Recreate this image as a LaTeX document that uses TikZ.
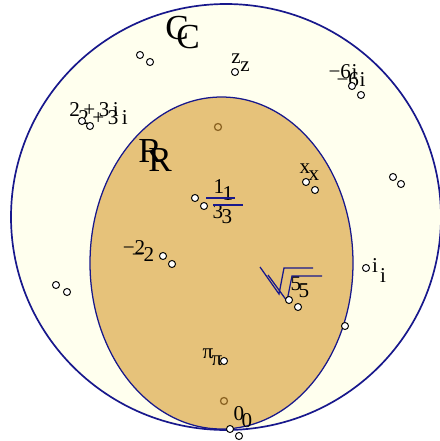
\documentclass[tikz,border=0pt]{standalone}
\usepackage{fontspec}
\setmainfont{Liberation Serif}
\definecolor{outerfill}{RGB}{255,255,238}
\definecolor{innerfill}{RGB}{230,194,122}
\definecolor{navyline}{RGB}{24,24,140}
\definecolor{browndot}{RGB}{140,100,35}
\begin{document}
\begin{tikzpicture}[x=0.025cm,y=-0.025cm,
  lbl/.style={inner sep=0pt, font=\fontsize{15}{17}\selectfont},
  biglbl/.style={inner sep=0pt, font=\fontsize{25}{29}\selectfont},
  pnt/.style={circle, draw=black, fill=white, line width=0.7pt, minimum size=5pt, inner sep=0pt},
  bpnt/.style={circle, draw=browndot, line width=0.9pt, minimum size=5pt, inner sep=0pt},
  setline/.style={draw=navyline, line width=1.2pt},
  navyrule/.style={draw=navyline, line width=0.9pt}]
\useasboundingbox (0,0) rectangle (440,441);
% sets
\path[setline, fill=outerfill] (226,217) ellipse [x radius=215, y radius=213];
\path[draw=navyline, line width=0.9pt, fill=innerfill] (221.5,263) ellipse [x radius=131.5, y radius=166];
% brown marks
\node[bpnt] (b1) at (218,127) {};
\node[bpnt] (b2) at (224,401) {};
% labels, first copy
\node[biglbl] (cA) at (177,28) {C};
\node[biglbl] (rA) at (150,151) {R};
\node[lbl] (zA) at (236,59) {z};
\node[lbl] (m6A) at (343,72) {−6\hspace{0.5pt}i};
\node[lbl] (p23A) at (94,110) {2\hspace{2.5pt}+\hspace{2.5pt}3\hspace{2.5pt}i};
\node[lbl] (xA) at (305,169) {x};
\node[lbl] (n1A) at (219,187) {1};
\node[lbl] (d3A) at (218,212) {3};
\node[lbl] (m2A) at (134,248) {−2};
\node[lbl] (iA) at (375,266) {i};
\node[lbl] (fiveA) at (296,284) {5};
\node[lbl] (piA) at (208,354) {π};
\node[lbl] (zeroA) at (239,414) {0};
% labels, second copy
\node[biglbl] (cB) at (188,37) {C};
\node[biglbl] (rB) at (160,160) {R};
\node[lbl] (zB) at (245,67) {z};
\node[lbl] (m6B) at (351,80) {−6\hspace{0.5pt}i};
\node[lbl] (p23B) at (103,118) {2\hspace{2.5pt}+\hspace{2.5pt}3\hspace{2.5pt}i};
\node[lbl] (xB) at (314,176) {x};
\node[lbl] (n1B) at (228,194) {1};
\node[lbl] (d3B) at (227,217) {3};
\node[lbl] (m2B) at (143,255) {−2};
\node[lbl] (iB) at (383,276) {i};
\node[lbl] (fiveB) at (304,291) {5};
\node[lbl] (piB) at (217,361) {π};
\node[lbl] (zeroB) at (247,421) {0};
% fraction rules and radicals
\coordinate (fa1) at (206,198); \coordinate (fa2) at (235,198);
\coordinate (fb1) at (213,205); \coordinate (fb2) at (243,205);
\draw[navyrule] (fa1) -- (fa2);
\draw[navyrule] (fb1) -- (fb2);
\coordinate (ra1) at (260,267); \coordinate (ra2) at (279,294);
\coordinate (ra3) at (284,268); \coordinate (ra4) at (313,268);
\coordinate (rb1) at (268,275); \coordinate (rb2) at (287,301);
\coordinate (rb3) at (292,276); \coordinate (rb4) at (322,276);
\draw[navyrule] (ra1) -- (ra2) -- (ra3) -- (ra4);
\draw[navyrule] (rb1) -- (rb2) -- (rb3) -- (rb4);
% points
\node[pnt] (q1) at (140,55) {};
\node[pnt] (q2) at (150,62) {};
\node[pnt] (q3) at (82,121) {};
\node[pnt] (q4) at (90,126) {};
\node[pnt] (q5) at (235,72) {};
\node[pnt] (q6) at (352,86) {};
\node[pnt] (q7) at (361,95) {};
\node[pnt] (q8) at (306,182) {};
\node[pnt] (q9) at (315,190) {};
\node[pnt] (q10) at (393,177) {};
\node[pnt] (q11) at (401,184) {};
\node[pnt] (q12) at (195,198) {};
\node[pnt] (q13) at (204,206) {};
\node[pnt] (q14) at (163,256) {};
\node[pnt] (q15) at (172,264) {};
\node[pnt] (q16) at (366,268) {};
\node[pnt] (q17) at (56,285) {};
\node[pnt] (q18) at (67,292) {};
\node[pnt] (q19) at (289,300) {};
\node[pnt] (q20) at (298,307) {};
\node[pnt] (q21) at (345,326) {};
\node[pnt] (q22) at (224,361) {};
\node[pnt] (q23) at (230,429) {};
\node[pnt] (q24) at (239,436) {};
\end{tikzpicture}
\end{document}
